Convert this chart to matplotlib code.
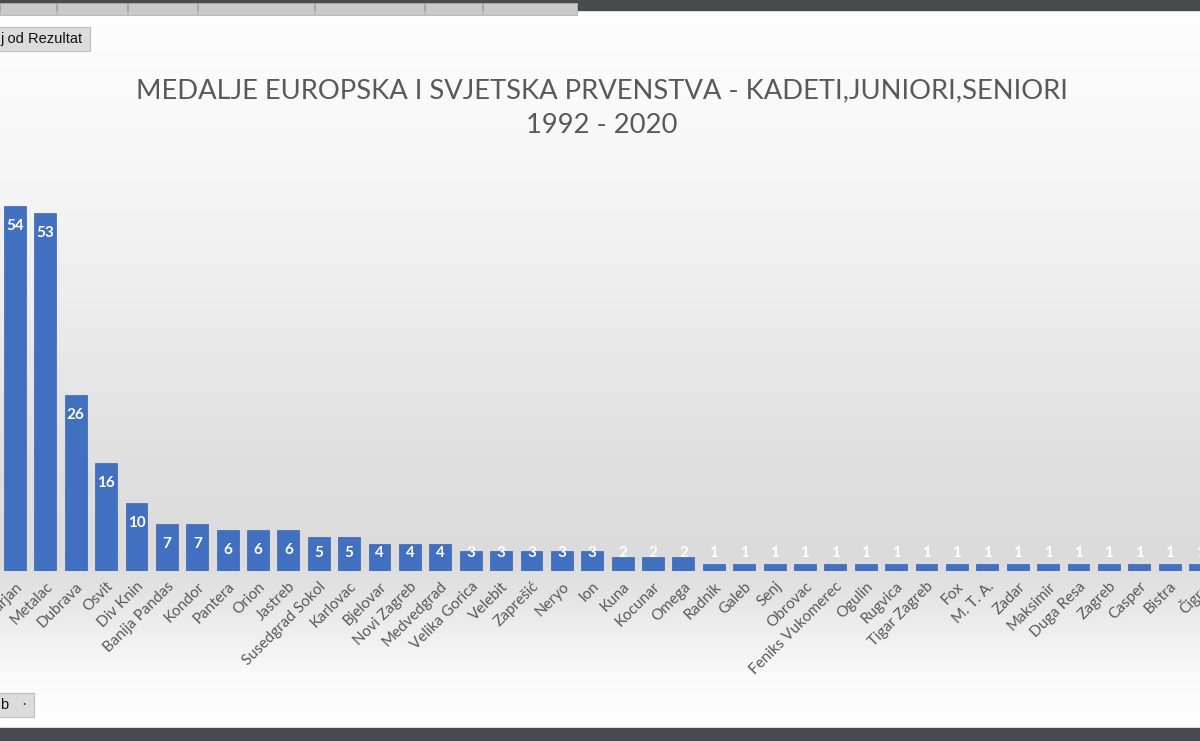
import numpy as np
import matplotlib.pyplot as plt
from matplotlib.patches import Rectangle

# podaci
klubovi = ["Marjan", "Metalac", "Dubrava", "Osvit", "Div Knin", "Banija Pandas", "Kondor",
           "Pantera", "Orion", "Jastreb", "Susedgrad Sokol", "Karlovac", "Bjelovar",
           "Novi Zagreb", "Medvedgrad", "Velika Gorica", "Velebit", "Zaprešić", "Neryo",
           "Ion", "Kuna", "Kocunar", "Omega", "Radnik", "Galeb", "Senj", "Obrovac",
           "Feniks Vukomerec", "Ogulin", "Rugvica", "Tigar Zagreb", "Fox", "M. T. A.",
           "Zadar", "Maksimir", "Duga Resa", "Zagreb", "Casper", "Bistra", "Čigra"]
medalje = [54, 53, 26, 16, 10, 7, 7, 6, 6, 6, 5, 5, 4, 4, 4, 3, 3, 3, 3, 3, 2, 2, 2,
           1, 1, 1, 1, 1, 1, 1, 1, 1, 1, 1, 1, 1, 1, 1, 1, 1]
naslov = "MEDALJE EUROPSKA I SVJETSKA PRVENSTVA - KADETI,JUNIORI,SENIORI\n1992 - 2020"

plt.rcParams['font.family'] = ['Lato', 'DejaVu Sans']

W, H = 1200, 741
fig = plt.figure(figsize=(12, 7.41), dpi=100)

# pozadina (gradijent) + okvir ekrana
bg = fig.add_axes([0, 0, 1, 1])
bg.set_xlim(0, W)
bg.set_ylim(H, 0)
bg.axis('off')
stops_y = [0, 20, 150, 300, 450, 560, 620, 680, 741]
stops_g = [0.99, 0.99, 0.965, 0.925, 0.875, 0.855, 0.92, 0.98, 1.0]
grad = np.interp(np.arange(H), stops_y, stops_g)
img = np.repeat(grad[:, None], 2, axis=1)
bg.imshow(img, cmap='gray', vmin=0, vmax=1, extent=[0, W, H, 0], aspect='auto')

bg.add_patch(Rectangle((0, 0), W, 10, color='#474b50'))
bg.add_patch(Rectangle((0, 728), W, 13, color='#474b50'))
tabs = [0, 57, 128, 198, 315, 425, 483, 578]
for a, b in zip(tabs[:-1], tabs[1:]):
    bg.add_patch(Rectangle((a, 3), b - a - 1, 12, facecolor='#c9c9c9', edgecolor='#b0b0b0', lw=0.6))
bg.add_patch(Rectangle((-2, 27), 92, 24, facecolor='#dcdcdc', edgecolor='#bdbdbd', lw=0.8))
bg.text(0, 39, "j od Rezultat", fontsize=10.5, va='center', ha='left', color='#111111',
        family=['Liberation Sans', 'DejaVu Sans'])
bg.add_patch(Rectangle((-2, 693), 36, 24, facecolor='#dcdcdc', edgecolor='#bdbdbd', lw=0.8))
bg.text(0, 705, "b", fontsize=10.5, va='center', ha='left', color='#111111',
        family=['Liberation Sans', 'DejaVu Sans'])
bg.text(24, 704, "·", fontsize=9, va='center', ha='center', color='#333333')

bg.text(602, 108, naslov, ha='center', va='center', fontsize=19.7, color='#595959',
        linespacing=1.5)

# graf
x = np.arange(len(klubovi))
korak = 30.55
x0 = -15 / korak
x1 = (W - 15) / korak
baza = 571
top = 150
ax = fig.add_axes([0, (H - baza) / H, 1, (baza - top) / H])
ax.patch.set_alpha(0)
ax.set_xlim(x0, x1)
ax.set_ylim(0, (baza - top) / 6.76)
ax.bar(x, medalje, width=0.72, color='#4170c0', edgecolor='#3a64b0', linewidth=0.5)
for xi, v in zip(x, medalje):
    ax.text(xi, max(v - 2.96, 2.7), str(v), ha='center', va='center', color='white',
            fontsize=11, fontweight='bold', clip_on=True)
for s in ax.spines.values():
    s.set_visible(False)
ax.set_yticks([])
ax.set_xticks(x)
ax.set_xticklabels(klubovi, rotation=45, ha='right', rotation_mode='anchor',
                   fontsize=11, color='#595959')
ax.tick_params(axis='x', length=0, pad=6)

fig.savefig("out.png", dpi=100)
